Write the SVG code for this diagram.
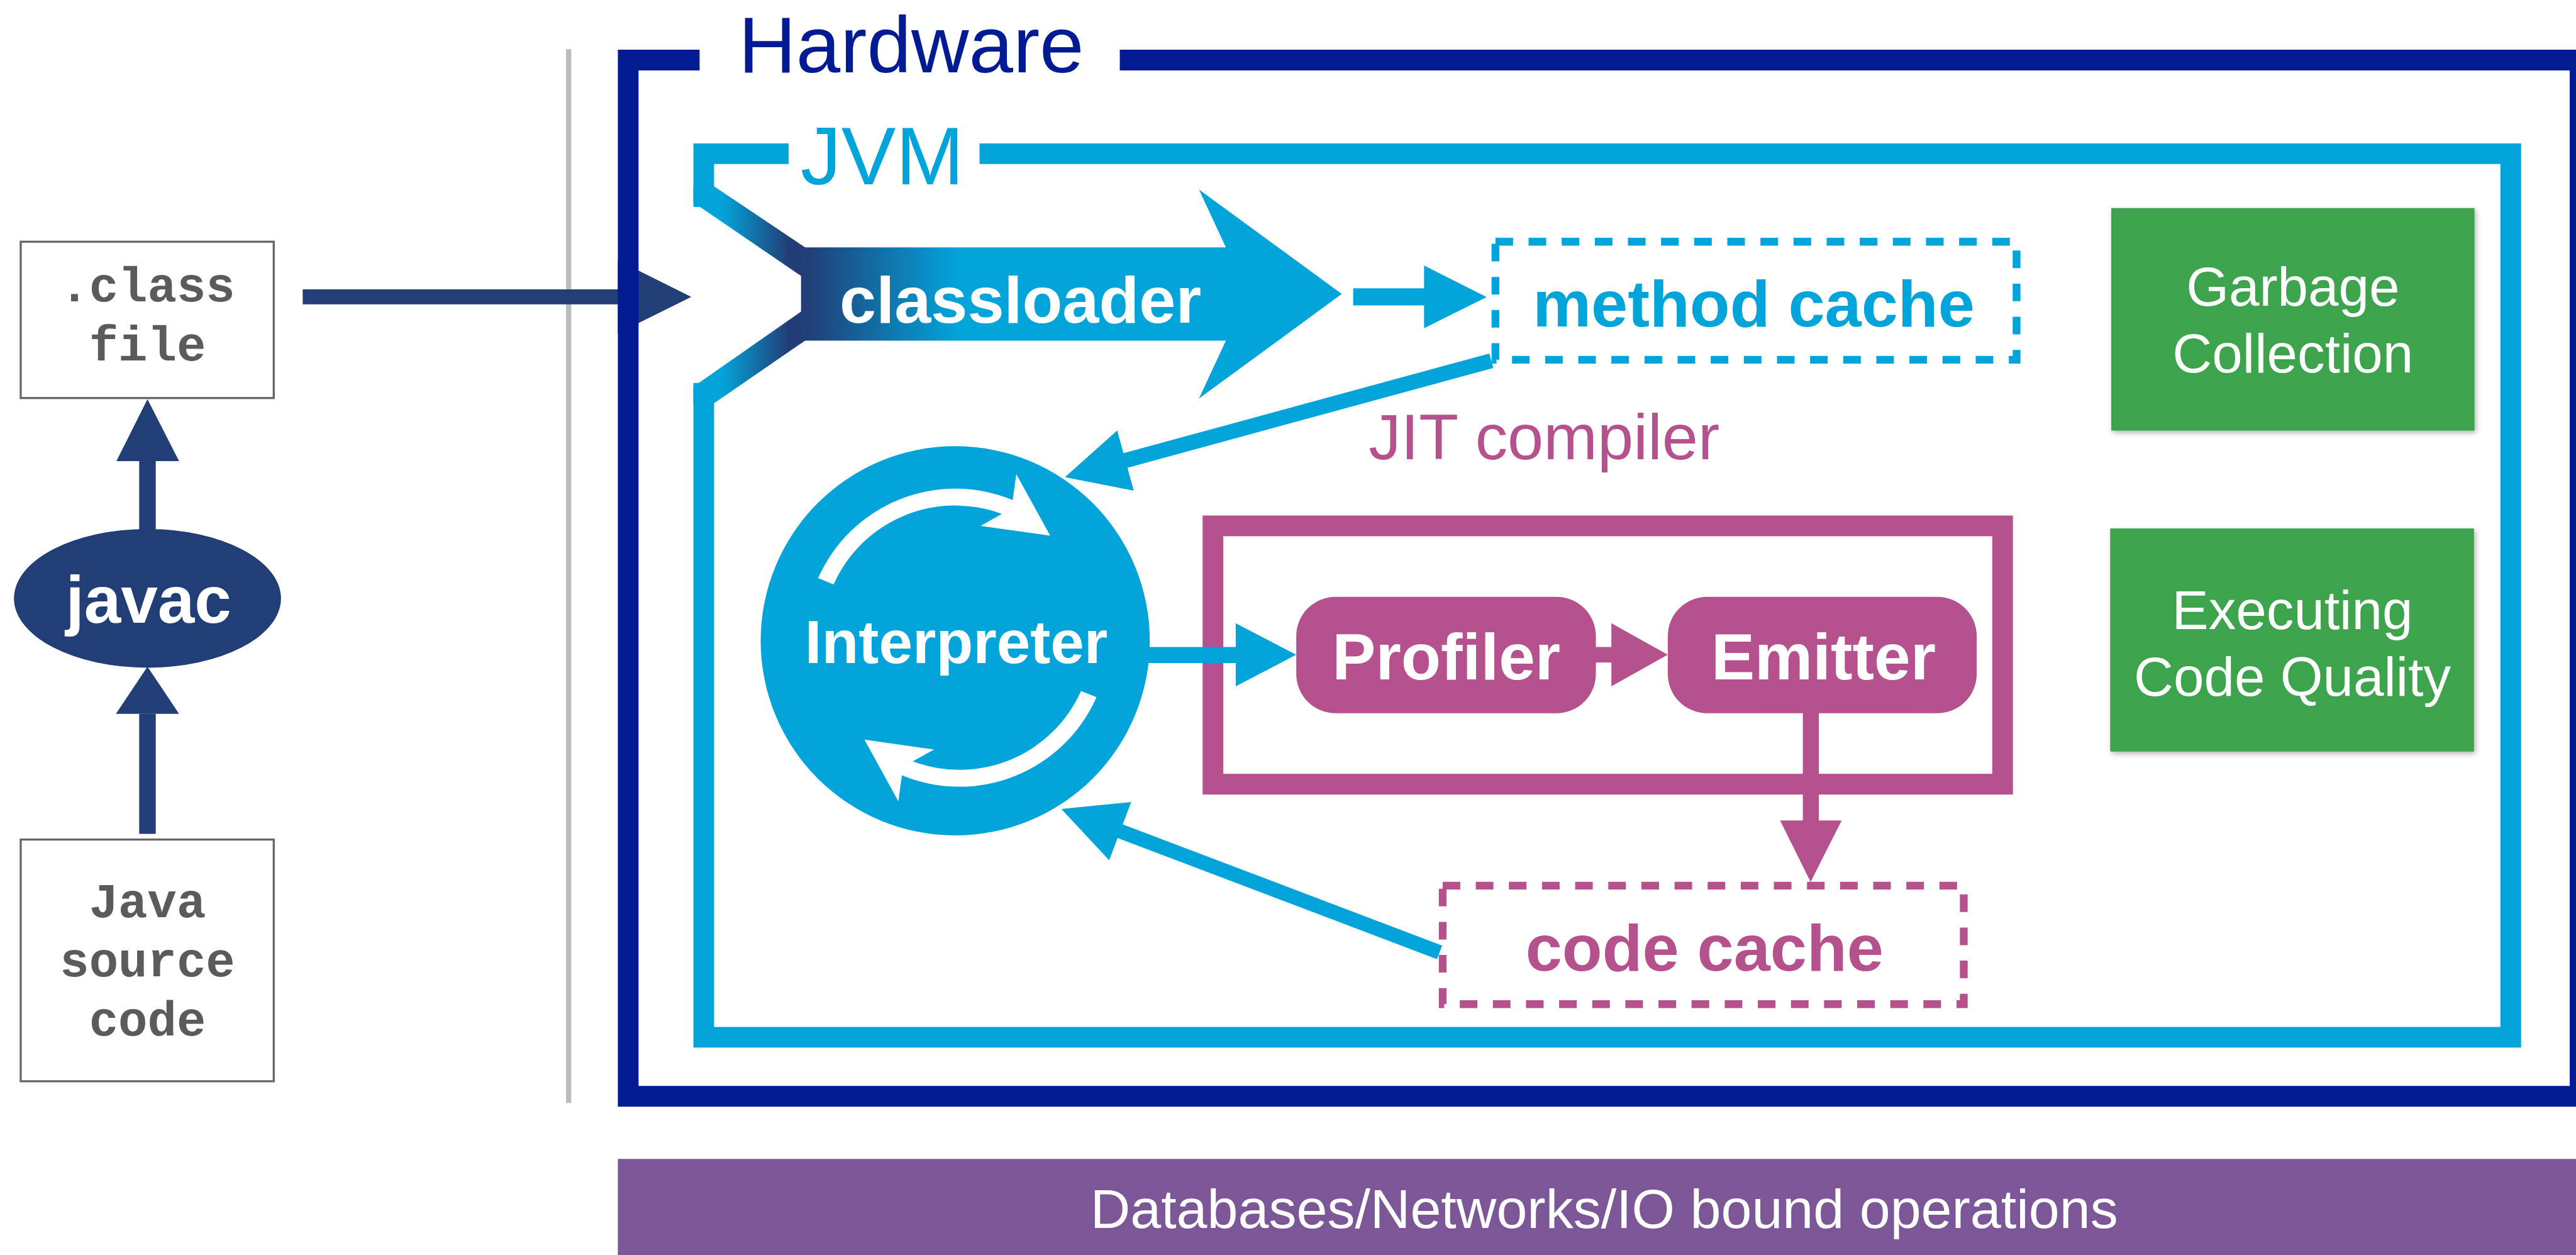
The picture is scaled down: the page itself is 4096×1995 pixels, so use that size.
<svg xmlns="http://www.w3.org/2000/svg" width="4096" height="1995" viewBox="0 0 4096 1995">
<style>
.mono{font-family:"Liberation Mono","Courier New",monospace;font-weight:bold;font-size:94px;fill:#5b5b5b;text-anchor:middle}
.bold{font-family:"Liberation Sans",Arial,sans-serif;font-weight:bold;text-anchor:middle}
.light{font-family:"Liberation Sans",Arial,sans-serif;font-weight:normal;text-anchor:middle}
.navy{fill:#213f76}
.cyan{fill:#02a4da}
.mag{fill:#b5518c}
.white{fill:#ffffff}
.greybox{fill:#ffffff;stroke:#666666;stroke-width:4}
.green{fill:#3da34d}
</style>
<defs>
<linearGradient id="clg" gradientUnits="userSpaceOnUse" x1="1340" y1="0" x2="1900" y2="0">
<stop offset="0.098" stop-color="#02a4da"/>
<stop offset="0.33" stop-color="#223d76"/>
<stop offset="0.40" stop-color="#213f78"/>
<stop offset="0.91" stop-color="#02a4da"/>
</linearGradient>
<filter id="sh" x="-5%" y="-5%" width="115%" height="115%">
<feDropShadow dx="3" dy="4" stdDeviation="5" flood-color="#000" flood-opacity="0.3"/>
</filter>
<path id="loop" d="M 1581,1117 A 290 290 0 0 1 1957,966 L 1964,916 L 2029.5,1035 L 1895,1016 L 1936,993 A 257 257 0 0 0 1611,1129 Z"/>
</defs>
<g transform="scale(0.8228)">
<rect x="0" y="0" width="4978" height="2425" fill="#ffffff"/>

<g id="divider">
<rect x="1094" y="95" width="10" height="2036" fill="#bbbbbb"/>
</g>

<g id="node-db">
<rect x="1194" y="2239" width="3800" height="200" fill="#7b5797"/>
<text class="light" x="3100" y="2372" font-size="107" fill="#ffffff">Databases/Networks/IO bound operations</text>
</g>

<g id="node-class-file">
<rect class="greybox" x="40" y="467" width="489" height="302"/>
<text class="mono" x="285" y="582">.class</text>
<text class="mono" x="285" y="696">file</text>
</g>

<g id="node-java-source">
<rect class="greybox" x="40" y="1622" width="489" height="467"/>
<text class="mono" x="285" y="1772">Java</text>
<text class="mono" x="285" y="1886">source</text>
<text class="mono" x="285" y="2000">code</text>
</g>

<g id="node-javac">
<ellipse class="navy" cx="285" cy="1156" rx="258" ry="134"/>
<text class="bold white" x="287" y="1203" font-size="128">javac</text>
</g>

<g id="connectors-left">
<rect class="navy" x="269" y="1379" width="32" height="232"/>
<polygon class="navy" points="224,1379 285,1288 346,1379"/>
<rect class="navy" x="269" y="885" width="32" height="140"/>
<polygon class="navy" points="225,891 285,771 346,891"/>
<rect class="navy" x="585" y="559" width="620" height="29"/>
<polygon class="navy" points="1194,503 1336,573.5 1194,644"/>
</g>

<g id="node-hardware">
<path d="M 1352,116 H 1214 V 2118 H 4986 V 116 H 2164" fill="none" stroke="#021a92" stroke-width="40" stroke-linejoin="miter"/>
<text class="light" x="1761" y="140" font-size="154" fill="#021a92">Hardware</text>
</g>

<g id="node-jvm">
<path d="M 1524,297 H 1360 V 400" fill="none" stroke="#02a4da" stroke-width="40"/>
<path d="M 1360,740 V 2004 H 4852 V 297 H 1893" fill="none" stroke="#02a4da" stroke-width="40"/>
<text class="light" x="1705" y="356" font-size="158" fill="#02a4da">JVM</text>
</g>

<g id="node-classloader">
<polygon fill="url(#clg)" points="1340,360 1380,360 1556,478 2369,478 2317,366 2593,568 2317,770 2369,658 1556,658 1380,779 1340,779 1340,747 1548,602 1548,533 1340,391"/>
<text class="bold white" x="1972" y="623" font-size="127">classloader</text>
</g>

<g id="node-method-cache">
<rect x="2890" y="467" width="1007" height="228" fill="none" stroke="#02a4da" stroke-width="15" stroke-dasharray="34 30"/>
<text class="bold cyan" x="3389" y="631" font-size="127">method cache</text>
</g>

<g id="node-gc">
<rect class="green" x="4080" y="402" width="702" height="430" filter="url(#sh)"/>
<text class="light white" x="4431" y="591" font-size="106">Garbage</text>
<text class="light white" x="4431" y="720" font-size="106">Collection</text>
</g>

<g id="node-ecq">
<rect class="green" x="4078" y="1021" width="703" height="431" filter="url(#sh)"/>
<text class="light white" x="4430" y="1215" font-size="106">Executing</text>
<text class="light white" x="4430" y="1344" font-size="106">Code Quality</text>
</g>

<g id="node-jit">
<rect x="2344" y="1016" width="1526" height="499" fill="none" stroke="#b5518c" stroke-width="40"/>
<text class="light mag" x="2984" y="887" font-size="125">JIT compiler</text>
</g>

<g id="node-interpreter">
<circle class="cyan" cx="1846" cy="1238" r="376"/>
<use href="#loop" fill="#ffffff"/>
<use href="#loop" fill="#ffffff" transform="rotate(180 1850 1232)"/>
<text class="bold white" x="1848" y="1281" font-size="117">Interpreter</text>
</g>

<g id="node-profiler">
<rect class="mag" x="2505" y="1153" width="579" height="225" rx="76" ry="76"/>
<text class="bold white" x="2795" y="1313" font-size="126">Profiler</text>
</g>

<g id="node-emitter">
<rect class="mag" x="3223" y="1153" width="597" height="225" rx="76" ry="76"/>
<text class="bold white" x="3524" y="1313" font-size="126">Emitter</text>
</g>

<g id="node-code-cache">
<rect x="2788" y="1711" width="1007" height="229" fill="none" stroke="#b5518c" stroke-width="15" stroke-dasharray="34 30"/>
<text class="bold mag" x="3294" y="1875" font-size="127">code cache</text>
</g>

<g id="connectors">
<rect class="cyan" x="2615" y="557" width="140" height="33"/>
<polygon class="cyan" points="2752,513 2873,574 2752,634"/>
<line x1="2882" y1="697" x2="2170" y2="891" stroke="#02a4da" stroke-width="29"/>
<polygon class="cyan" points="2159,831.5 2058,922 2191,948"/>
<line x1="2782" y1="1840" x2="2160" y2="1604" stroke="#02a4da" stroke-width="28"/>
<polygon class="cyan" points="2186,1549.5 2051,1563 2143.5,1662"/>
<rect class="cyan" x="2200" y="1250" width="192" height="31"/>
<polygon class="cyan" points="2388,1204 2505,1265 2388,1326"/>
<rect class="mag" x="3080" y="1250" width="38" height="30"/>
<polygon class="mag" points="3114,1204 3223,1265 3114,1326"/>
<rect class="mag" x="3484" y="1375" width="31" height="212"/>
<polygon class="mag" points="3440,1585 3499,1704 3559,1585"/>
</g>
</g>
</svg>
